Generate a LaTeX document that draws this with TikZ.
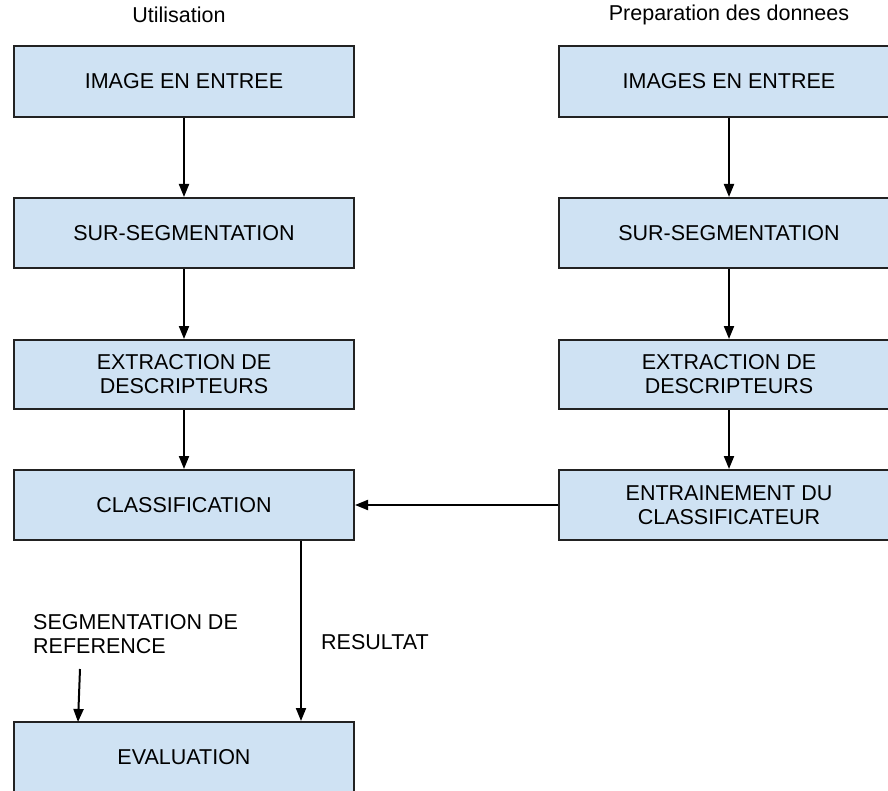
\documentclass[tikz,border=0pt]{standalone}
\usepackage{fontspec}
\setmainfont{Liberation Sans}
\usetikzlibrary{arrows.meta}
\definecolor{boxfill}{HTML}{CFE2F3}
\definecolor{boxline}{HTML}{222222}
\tikzset{
  stepbox/.style={draw=boxline, line width=2pt, fill=boxfill, rectangle,
    minimum width=340pt, minimum height=70pt, inner sep=0pt, align=center,
    font=\fontsize{21.5}{24}\selectfont},
  lbl/.style={inner sep=0pt, align=left, font=\fontsize{21.5}{24}\selectfont},
  arr/.style={draw=black, line width=2pt, -{Triangle[length=13pt,width=10pt]}}
}
\begin{document}
\begin{tikzpicture}[x=1pt,y=-1pt]
\useasboundingbox (0,0) rectangle (888,791);
\clip (0,0) rectangle (888,791);
\fill[white] (0,0) rectangle (888,791);
% titles
\node[lbl] (t1) at (179,15) {Utilisation};
\node[lbl] (t2) at (729,15) {Preparation des donnees};
% left column
\node[stepbox, minimum height=71pt] (l1) at (184,81.5) {IMAGE EN ENTREE};
\node[stepbox] (l2) at (184,233) {SUR-SEGMENTATION};
\node[stepbox, minimum height=69pt] (l3) at (184,374.5) {EXTRACTION DE\\DESCRIPTEURS};
\node[stepbox] (l4) at (184,505) {CLASSIFICATION};
\node[stepbox, minimum height=71pt] (l5) at (184,757.5) {EVALUATION};
% right column
\node[stepbox, minimum height=71pt] (r1) at (729,81.5) {IMAGES EN ENTREE};
\node[stepbox] (r2) at (729,233) {SUR-SEGMENTATION};
\node[stepbox, minimum height=69pt] (r3) at (729,374.5) {EXTRACTION DE\\DESCRIPTEURS};
\node[stepbox] (r4) at (729,505) {ENTRAINEMENT DU\\CLASSIFICATEUR};
% labels
\node[lbl, anchor=west] (seg) at (33,634) {SEGMENTATION DE\\REFERENCE};
\node[lbl, anchor=west] (res) at (321,642.5) {RESULTAT};
% helper coordinates
\coordinate (rx) at (301,0);
\coordinate (reftop) at (80,669);
\coordinate (refbot) at (78,722);
% connectors
\draw[arr] (l1) -- (l2);
\draw[arr] (l2) -- (l3);
\draw[arr] (l3) -- (l4);
\draw[arr] (r1) -- (r2);
\draw[arr] (r2) -- (r3);
\draw[arr] (r3) -- (r4);
\draw[arr] (r4.west) -- (l4.east);
\draw[arr] (l4.south -| rx) -- (l5.north -| rx);
\draw[arr] (reftop) -- (refbot);
\end{tikzpicture}
\end{document}
